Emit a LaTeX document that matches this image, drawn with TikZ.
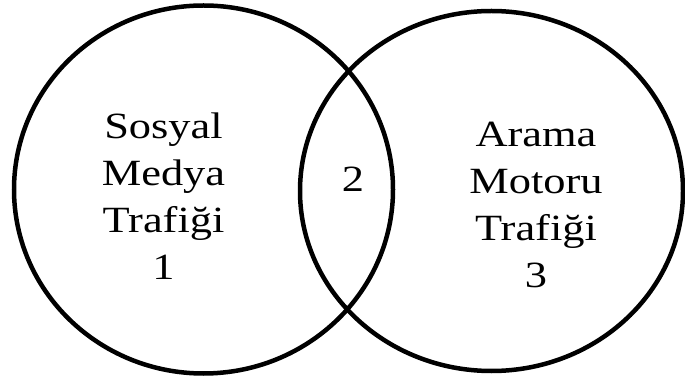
\documentclass[tikz,border=0pt]{standalone}
\usepackage{fontspec}
\setmainfont{Liberation Serif}
\newfontfamily\vennfont[FakeStretch=1.2]{Liberation Serif}
\begin{document}
\begin{tikzpicture}[x=1pt,y=1pt,
  venn/.style={draw=black, line width=4.5pt},
  lbl/.style={font=\vennfont\fontsize{37}{47}\selectfont, align=center, inner sep=0pt, text=black}]
\fill[white] (0,0) rectangle (685,380);
\useasboundingbox (0,0) rectangle (685,380);
\draw[venn] (203.5,190.5) ellipse [x radius=189.5, y radius=184];
\draw[venn] (491.5,189) ellipse [x radius=191.5, y radius=180];
\node[lbl, anchor=north] (left) at (163.5,267.5) {Sosyal\\Medya\\Trafiği\\1};
\node[lbl, anchor=north] (right) at (536,258) {Arama\\Motoru\\Trafiği\\3};
\node[lbl, anchor=base] (mid) at (353,188) {2};
\end{tikzpicture}
\end{document}
